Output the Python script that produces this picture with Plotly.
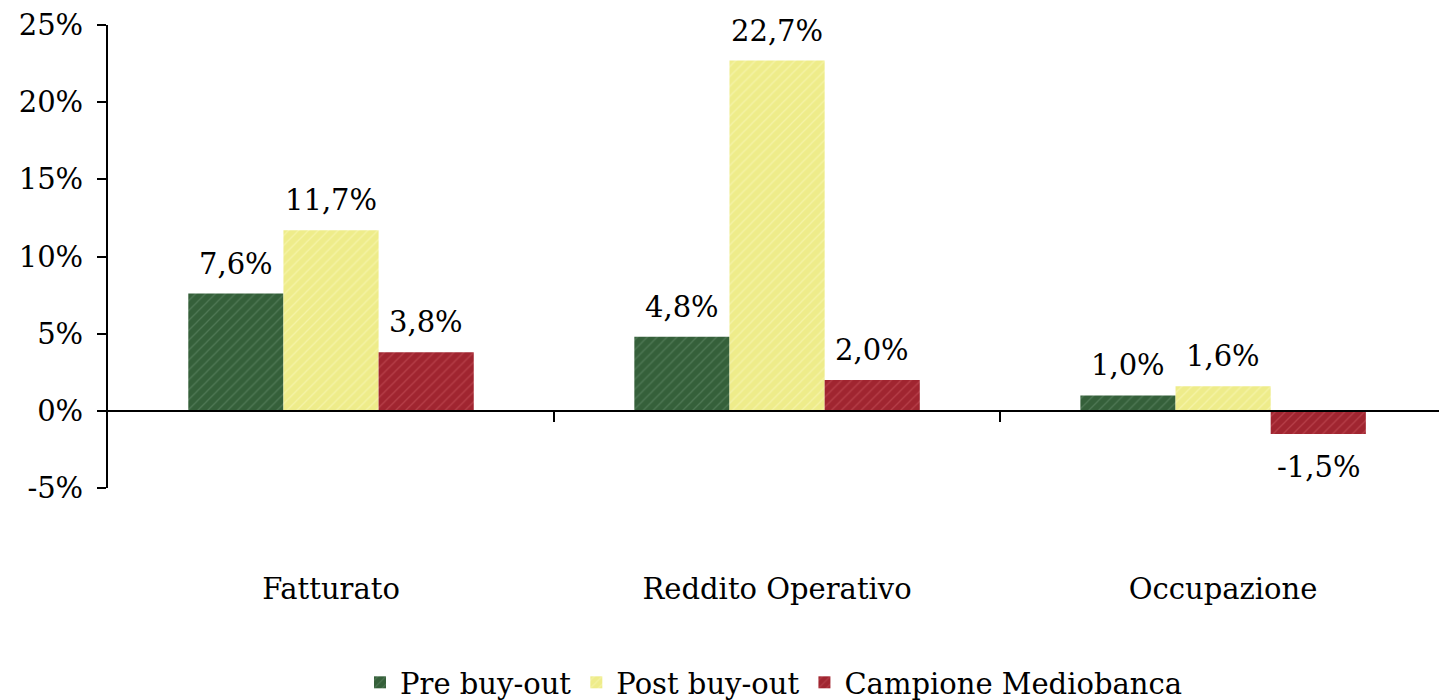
import plotly.graph_objects as go

categories = ["Fatturato", "Reddito Operativo", "Occupazione"]
series_names = ["Pre buy-out", "Post buy-out", "Campione Mediobanca"]
pre_buyout = [7.6, 4.8, 1.0]
post_buyout = [11.7, 22.7, 1.6]
campione = [3.8, 2.0, -1.5]
y_ticks = [-5, 0, 5, 10, 15, 20, 25]

series_values = [pre_buyout, post_buyout, campione]
base_colors = ["#35603a", "#eeec8a", "#a02530"]
stripe_colors = ["#6a9070", "#fbf9c4", "#cc5a62"]

FONT = "DejaVu Serif"
BARGAP = 0.36

fig = go.Figure()
for name, vals, bc, sc in zip(series_names, series_values, base_colors, stripe_colors):
    fig.add_trace(go.Bar(
        name=name, x=categories, y=vals,
        marker=dict(color=bc, line=dict(width=0),
                    pattern=dict(shape="/", fgcolor=sc, size=7, solidity=0.18)),
        hoverinfo="skip",
    ))

# invisible trace to activate the overlaid zero-level axis
fig.add_trace(go.Scatter(x=[0], y=[0], xaxis="x2", mode="markers",
                         marker=dict(opacity=0), showlegend=False, hoverinfo="skip"))

n = len(series_names)
w = (1 - BARGAP) / n
annotations = []
for j, vals in enumerate(series_values):
    for i, v in enumerate(vals):
        xpos = i + (j - (n - 1) / 2) * w
        label = f"{v:.1f}%".replace(".", ",")
        annotations.append(dict(
            x=xpos, y=v, xref="x2", yref="y", text=label, showarrow=False,
            font=dict(family=FONT, size=29, color="#000"),
            yanchor="bottom" if v >= 0 else "top",
            yshift=11 if v >= 0 else -14,
        ))

xr = [-0.5, 2.484]
fig.update_layout(
    width=1439, height=700,
    margin=dict(l=108, r=0, t=25, b=212, autoexpand=False),
    paper_bgcolor="white", plot_bgcolor="white",
    barmode="group", bargap=BARGAP, bargroupgap=0,
    font=dict(family=FONT, size=29, color="#000"),
    showlegend=True,
    legend=dict(orientation="h", x=0.5, xanchor="center", y=-0.42, yanchor="middle",
                font=dict(family=FONT, size=29), itemwidth=30, tracegroupgap=0),
    xaxis=dict(type="category", range=xr, showline=False, ticks="", showgrid=False,
               zeroline=False, ticklabelstandoff=81, automargin=False,
               tickfont=dict(family=FONT, size=29)),
    xaxis2=dict(overlaying="x", anchor="free", position=1/6, type="linear", range=xr,
                showline=True, linecolor="#000", linewidth=2, automargin=False,
                tickvals=[0.5, 1.5], ticks="outside", ticklen=10, tickwidth=2,
                tickcolor="#000", showticklabels=False, showgrid=False, zeroline=False),
    yaxis=dict(range=[-5, 25], tickvals=y_ticks, ticktext=[f"{t}%" for t in y_ticks],
               showline=True, linecolor="#000", linewidth=2, ticks="outside",
               ticklen=9, tickwidth=2, tickcolor="#000", showgrid=False, zeroline=False,
               ticklabelstandoff=8, automargin=False, tickfont=dict(family=FONT, size=29)),
    annotations=annotations,
)

fig.write_html("out.html", config={"displayModeBar": False},
               post_script="document.body.style.margin='0';")
